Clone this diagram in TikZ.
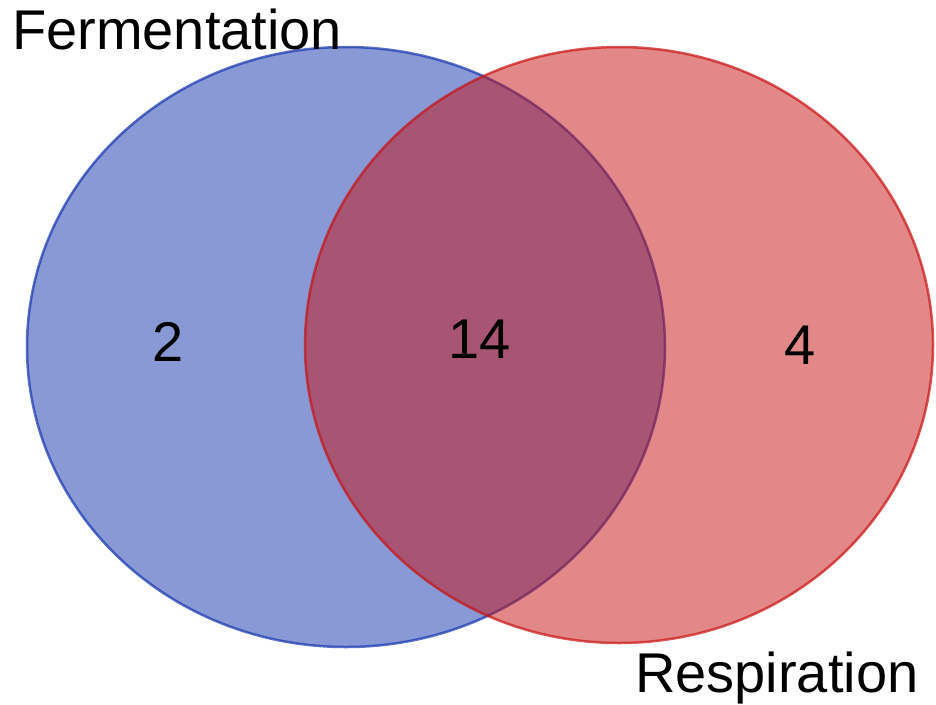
\documentclass[tikz,border=0pt]{standalone}
\usepackage{fontspec}
\setmainfont{Liberation Sans}
\usepackage{tikz}
\usetikzlibrary{positioning}

\definecolor{fermblue}{RGB}{19,51,173}
\definecolor{respred}{RGB}{200,17,17}

\tikzset{
  setfill/.style={fill=#1, fill opacity=0.5, draw=#1, draw opacity=0.7, line width=2.5pt},
  venntext/.style={inner sep=0pt, font=\fontsize{56}{67}\selectfont}
}

\begin{document}
\begin{tikzpicture}[x=1pt, y=-1pt]
  \useasboundingbox (0,0) rectangle (936,704);

  % sets
  \draw [setfill=fermblue] (346,347) ellipse [x radius=319, y radius=300];
  \draw [setfill=respred] (619,345) ellipse [x radius=314, y radius=298];

  % counts
  \node [venntext] (onlyferm) at (168,342) {2};
  \node [venntext] (both) at (480,339) {14};
  \node [venntext] (onlyresp) at (800,345) {4};

  % set labels
  \node [venntext, anchor=base west] (fermlabel) at (12,49) {Fermentation};
  \node [venntext, anchor=base west] (resplabel) at (635,692) {Respiration};
\end{tikzpicture}
\end{document}
